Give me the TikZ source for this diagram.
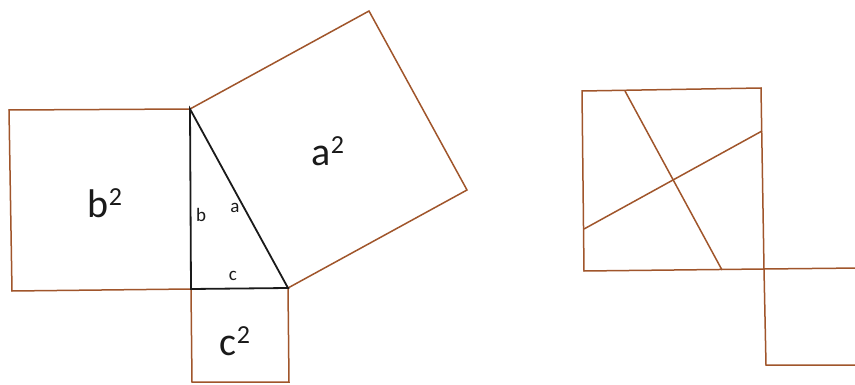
\documentclass[tikz,border=0pt]{standalone}
\usepackage{fontspec}
\setmainfont{Carlito}
\usetikzlibrary{calc}
\definecolor{sqBrown}{HTML}{A0552B}
\definecolor{sqInk}{HTML}{1A1A1A}
\newcommand{\sqtwo}{\raisebox{12pt}{\fontsize{26}{26}\selectfont 2}}

\begin{document}
\begin{tikzpicture}[x=1pt,y=-1pt,
  sq/.style={draw=sqBrown,line width=1.5pt,line join=miter},
  tri/.style={draw=sqInk,line width=1.8pt,line join=miter},
  big/.style={font=\fontsize{40}{40}\selectfont,text=sqInk,inner sep=0pt},
  side/.style={font=\fontsize{19}{19}\selectfont,text=sqInk,inner sep=0pt},
]
\useasboundingbox[fill=white] (0,0) rectangle (855,385);

% triangle corners
\coordinate (B) at (190,109);
\coordinate (C) at (191,289);
\coordinate (A) at (288,288);
% outer corners of the three squares
\coordinate (b1) at (9,110);
\coordinate (b2) at (12,291);
\coordinate (c1) at (192,382);
\coordinate (c2) at (289,382);
\coordinate (a1) at ($(B)+(179,-98)$);
\coordinate (a2) at ($(A)+(179,-98)$);

\draw[sq] (B) -- (b1) -- (b2) -- (C);
\draw[sq] (C) -- (c1) -- (c2) -- (A);
\draw[sq] (B) -- (a1) -- (a2) -- (A);
\draw[tri] (B) -- (C) -- (A) -- cycle;

\node[big] (aa) at (328,151) {a\sqtwo};
\node[big] (bb) at (105,203) {b\sqtwo};
\node[big] (cc) at (235,341) {c\sqtwo};
\node[side] (sb) at (201,215) {b};
\node[side] (sa) at (235,208) {a};
\node[side] (sc) at (233,276) {c};

% dissection: b square cut in four, c square beside it
\coordinate (p1) at (582,91);
\coordinate (p2) at (761,88);
\coordinate (p3) at (764,269);
\coordinate (p4) at (584,271);
\coordinate (q1) at (766,365);
\coordinate (q2) at (860,365);
\coordinate (q3) at (860,268);
\begin{scope}
  \clip (0,0) rectangle (855,385);
  \draw[sq] (p3) -- (p2) -- (p1) -- (p4) -- (p3) -- (q3);
  \draw[sq] (p3) -- (q1) -- (q2);
\end{scope}
\coordinate (l1) at (625,91);
\coordinate (l2) at (722,270);
\coordinate (m1) at (584,229);
\coordinate (m2) at (762,131);
\draw[sq] (l1) -- (l2);
\draw[sq] (m1) -- (m2);
\end{tikzpicture}
\end{document}
